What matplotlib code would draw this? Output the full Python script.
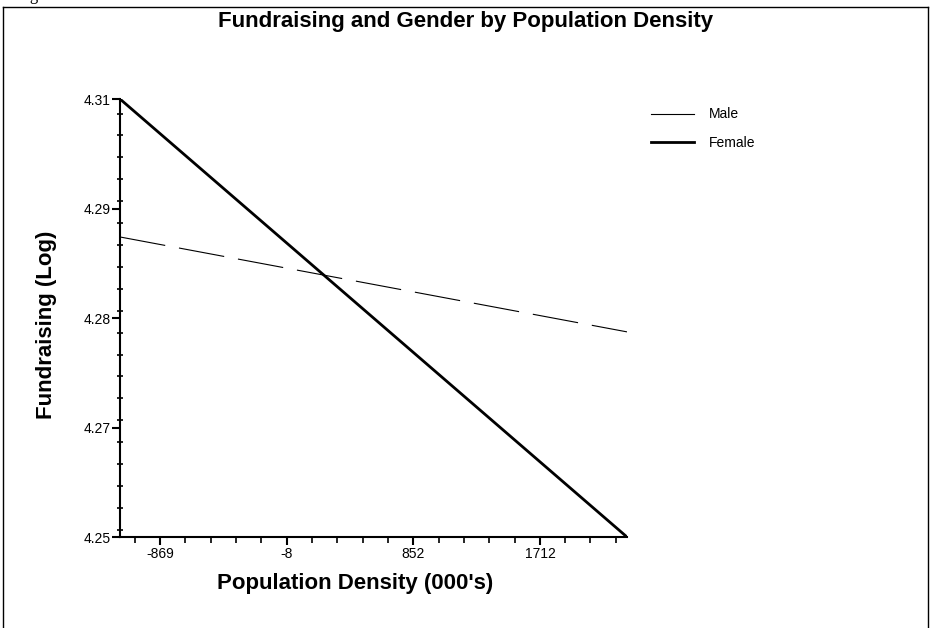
import matplotlib.pyplot as plt
from matplotlib.ticker import FixedLocator, MultipleLocator
from matplotlib.lines import Line2D

plt.rcParams['font.family'] = ['Liberation Sans', 'DejaVu Sans']

####################################################
# Data
####################################################
density = [-1141, 2303]          # population density (000's), range of the axis
male = [4.2911, 4.2781]          # fundraising (log) for male
female = [4.31, 4.25]            # fundraising (log) for female

x_ticks = [-869, -8, 852, 1712]
x_labels = ['-869', '-8', '852', '1712']
y_ticks = [4.25, 4.265, 4.28, 4.295, 4.31]
y_labels = ['4.25', '4.27', '4.28', '4.29', '4.31']

W, H = 931, 628

####################################################
# Plot
####################################################
fig = plt.figure(figsize=(W / 100, H / 100), dpi=100)
ax = fig.add_axes([120 / W, 1 - 537 / H, 507 / W, 438 / H])

ax.plot(density, male, color='black', linewidth=0.8, dashes=(41.4, 12.6), label='Male')
ax.plot(density, female, color='black', linewidth=2.0, label='Female')

ax.set_xlim(density[0], density[1])
ax.set_ylim(4.25, 4.31)

ax.xaxis.set_major_locator(FixedLocator(x_ticks))
ax.set_xticklabels(x_labels, fontsize=10)
ax.xaxis.set_minor_locator(FixedLocator([-1041 + k * 172 for k in range(20)]))
ax.yaxis.set_major_locator(FixedLocator(y_ticks))
ax.set_yticklabels(y_labels, fontsize=10)
ax.yaxis.set_minor_locator(MultipleLocator(0.003))

ax.tick_params(axis='both', which='major', direction='out', length=6, width=1.5, pad=1)
ax.tick_params(axis='x', which='minor', direction='out', length=4, width=1.2)
ax.tick_params(axis='y', which='minor', direction='inout', length=5, width=1.2)

for s in ['top', 'right']:
    ax.spines[s].set_visible(False)
for s in ['left', 'bottom']:
    ax.spines[s].set_linewidth(1.5)

# axis titles
fig.text(355.5 / W, 1 - 583 / H, "Population Density (000's)",
         ha='center', va='center', fontweight='bold', fontsize=16)
fig.text(47 / W, 1 - 325 / H, 'Fundraising (Log)', rotation=90,
         ha='center', va='center', fontweight='bold', fontsize=16)

handles = [Line2D([], [], color='black', linewidth=0.8),
           Line2D([], [], color='black', linewidth=2.0)]
fig.legend(handles, ['Male', 'Female'], loc='upper left',
           bbox_to_anchor=(0.6857, 1 - 95 / H), frameon=False, handlelength=3.1,
           handletextpad=1.08, labelspacing=1.04, prop={'size': 10})

fig.text(0.5, 1 - 21.5 / H, 'Fundraising and Gender by Population Density',
         ha='center', va='center', fontweight='bold', fontsize=16)

# frame around the figure, and the tail of the caption above it
top = 1 - 7 / H
fig.add_artist(Line2D([3 / W, 3 / W], [0, top], color='black', linewidth=1.0))
fig.add_artist(Line2D([3 / W, 928 / W], [top, top], color='black', linewidth=1.0))
fig.add_artist(Line2D([928 / W, 928 / W], [0, top], color='black', linewidth=1.0))
fig.text(17 / W, 1.0, 'Figure', ha='left', va='baseline',
         fontfamily='Liberation Serif', fontsize=12)

fig.savefig('out.png', dpi=100)
